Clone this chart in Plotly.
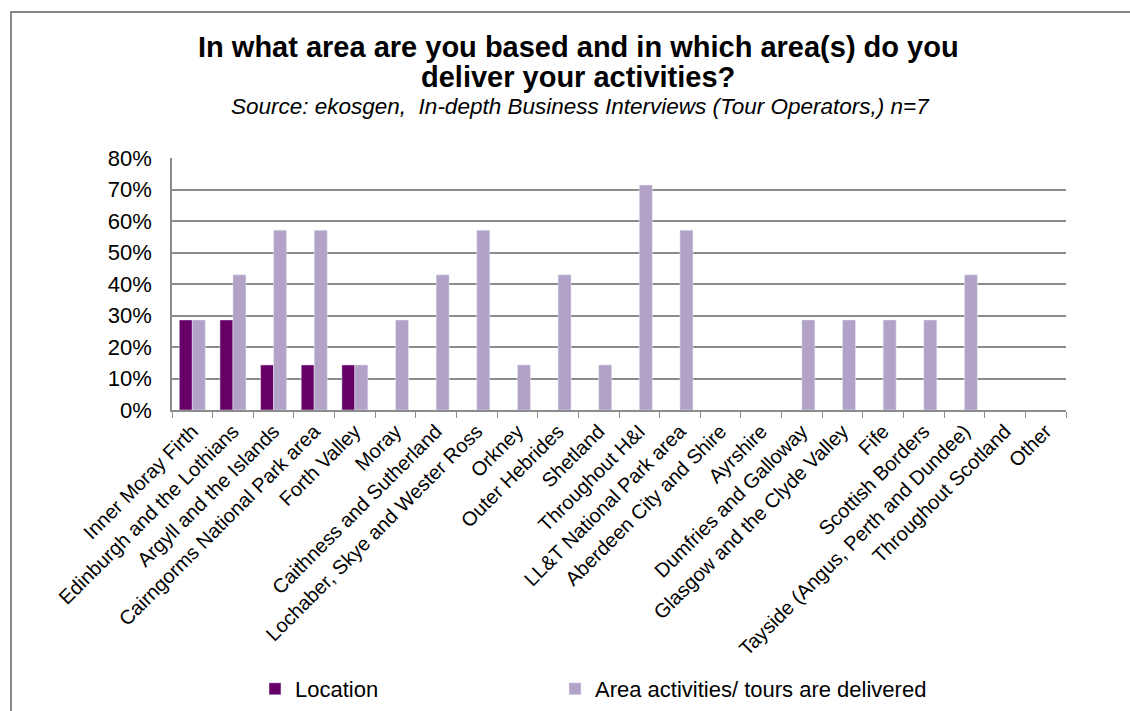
import plotly.graph_objects as go

categories = [
    "Inner Moray Firth", "Edinburgh and the Lothians", "Argyll and the Islands",
    "Cairngorms National Park area", "Forth Valley", "Moray",
    "Caithness and Sutherland", "Lochaber, Skye and Wester Ross", "Orkney",
    "Outer Hebrides", "Shetland", "Throughout H&I", "LL&T National Park area",
    "Aberdeen City and Shire", "Ayrshire", "Dumfries and Galloway",
    "Glasgow and the Clyde Valley", "Fife", "Scottish Borders",
    "Tayside (Angus, Perth and Dundee)", "Throughout Scotland", "Other",
]

# share of respondents (n=7)
location = [0.286, 0.286, 0.143, 0.143, 0.143, 0, 0, 0, 0, 0, 0,
            0, 0, 0, 0, 0, 0, 0, 0, 0, 0, 0]
delivered = [0.286, 0.429, 0.571, 0.571, 0.143, 0.286, 0.429, 0.571, 0.143,
             0.429, 0.143, 0.714, 0.571, 0, 0, 0.286, 0.286, 0.286, 0.286,
             0.429, 0, 0]

y_ticks = [0, 0.1, 0.2, 0.3, 0.4, 0.5, 0.6, 0.7, 0.8]

FONT = "Liberation Sans, Arial, sans-serif"
GRID = "#8c8c8c"

fig = go.Figure()
fig.add_trace(go.Bar(name="Location", x=categories, y=location,
                     marker_color="#660066", legend="legend"))
fig.add_trace(go.Bar(name="Area activities/ tours are delivered", x=categories,
                     y=delivered, marker_color="#B3A2C7", legend="legend2"))

L, R, T, B = 172, 64, 158, 301
W, H = 1130, 711
pw, ph = W - L - R, H - T - B


def px(x):
    return (x - L) / pw


def py(y):
    return (H - B - y) / ph


def legend_at(x_px):
    return dict(orientation="h", xref="container", yref="container",
                x=x_px / W, y=1 - 689 / H, xanchor="left", yanchor="middle",
                font=dict(size=22), itemwidth=30, bgcolor="rgba(0,0,0,0)")


fig.update_layout(
    width=W, height=H,
    margin=dict(l=L, r=R, t=T, b=B, autoexpand=False),
    paper_bgcolor="white", plot_bgcolor="white",
    barmode="group", bargap=0.36, bargroupgap=0,
    font=dict(family=FONT, color="black"),
    showlegend=True,
    legend=legend_at(255),
    legend2=legend_at(555),
    xaxis=dict(type="category", tickangle=-45, tickfont=dict(size=20),
               showline=True, linecolor=GRID, linewidth=1.5,
               ticks="outside", tickson="boundaries", ticklen=6,
               tickcolor=GRID, showgrid=False),
    yaxis=dict(range=[0, 0.8], tickvals=y_ticks, tickformat=".0%",
               tickfont=dict(size=22), showgrid=True, gridcolor=GRID,
               gridwidth=1.5, zeroline=False, showline=True, linecolor=GRID,
               linewidth=1.5, ticks="", ticklabelstandoff=14),
    annotations=[
        dict(text="<b>In what area are you based and in which area(s) do you</b>",
             xref="paper", yref="paper", x=px(578), y=py(47), xanchor="center",
             yanchor="middle", showarrow=False, font=dict(size=29)),
        dict(text="<b>deliver your activities?</b>",
             xref="paper", yref="paper", x=px(578), y=py(77), xanchor="center",
             yanchor="middle", showarrow=False, font=dict(size=29)),
        dict(text="<i>Source: ekosgen,  In-depth Business Interviews (Tour Operators,) n=7</i>",
             xref="paper", yref="paper", x=px(580), y=py(106), xanchor="center",
             yanchor="middle", showarrow=False, font=dict(size=22.5)),
    ],
    shapes=[
        dict(type="rect", xref="paper", yref="paper",
             x0=px(11), x1=px(1200), y0=py(800), y1=py(12),
             line=dict(color="#888888", width=2), layer="below"),
    ],
)

fig.write_html("out.html")
